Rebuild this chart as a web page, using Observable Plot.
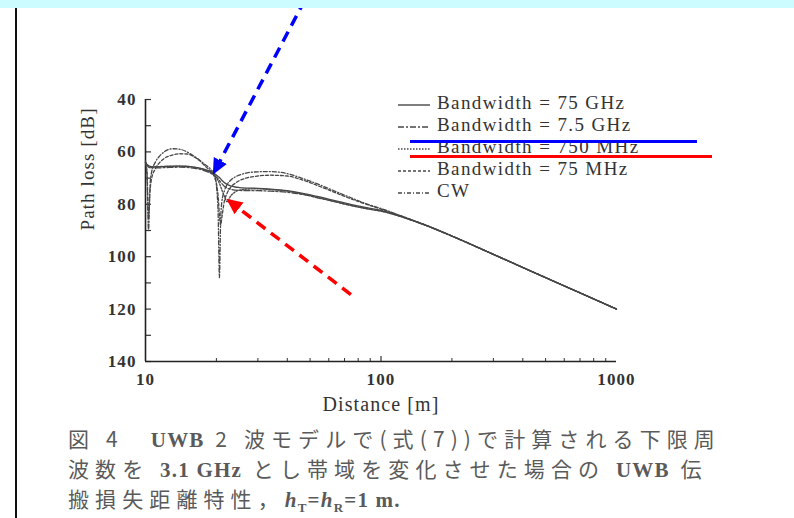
<!DOCTYPE html>
<html>
<head>
<meta charset="utf-8">
<script src="https://cdn.jsdelivr.net/npm/d3@7"></script>
<script src="https://cdn.jsdelivr.net/npm/@observablehq/plot@0.6"></script>
<style>
  body { margin: 0; background: #fff; }
  #page { position: relative; width: 794px; height: 518px; overflow: hidden; background: #fff; }
  #band { position: absolute; left: 0; top: 0; width: 794px; height: 8px; background: #ccfcff; z-index: 5; }
  #rule { position: absolute; left: 15px; top: 8px; width: 2px; height: 510px; background: #111; }
  #chart { position: absolute; left: 0; top: 0; }
  #legend { position: absolute; left: 398px; top: 92px; font-family: "Liberation Serif", serif; font-size: 19px; color: #333; letter-spacing: 1.4px; z-index: 2; }
  #legend .row { height: 22px; line-height: 22px; white-space: nowrap; }
  #legend svg { vertical-align: middle; margin-right: 7px; }
  .strike { position: absolute; height: 3px; z-index: 3; }
  #caption { position: absolute; left: 68px; top: 424px; font-family: "Noto Sans CJK JP", sans-serif; font-size: 21px; line-height: 28px; color: #5a5a5a; white-space: nowrap; }
  #caption div { letter-spacing: 6.1px; }
  #caption .lat { font-family: "Liberation Serif", serif; font-weight: bold; font-size: 21px; letter-spacing: 1.2px; }
  #caption sub { font-size: 13px; }
</style>
</head>
<body>
<div id="page">
  <div id="band"></div>
  <div id="rule"></div>
  <div id="chart"></div>
  <div id="legend"></div>
  <div class="strike" style="left:410px; top:140px; width:287px; background:#0000ff;"></div>
  <div class="strike" style="left:410px; top:155px; width:302px; background:#ff0000;"></div>
  <div id="caption">
    <div>図 4　<span class="lat">UWB</span> 2 波モデルで(式(7))で計算される下限周</div>
    <div>波数を <span class="lat">3.1 GHz</span> とし帯域を変化させた場合の <span class="lat">UWB</span> 伝</div>
    <div>搬損失距離特性，<span class="lat"><i>h</i><sub>T</sub>=<i>h</i><sub>R</sub>=1 m.</span></div>
  </div>
</div>
<script>
// Distances [m] at which every curve is sampled
const distance = [10, 10.15, 10.3, 10.45, 10.6, 11, 11.5, 12, 13, 14, 15, 16, 17, 18, 19, 19.6, 20.1, 20.35, 20.6, 20.85, 21.1, 21.6, 22.2, 23, 24, 25, 27, 30, 34, 40, 46, 55, 65, 75, 88, 100, 120, 150, 200, 300, 500, 700, 1000];

// Path loss [dB] for each bandwidth
const loss75GHz = [64.3, 64.8, 65.2, 65.5, 65.6, 65.7, 65.7, 65.6, 65.5, 65.4, 65.5, 65.8, 66.2, 66.8, 67.6, 68.3, 69, 69.4, 69.8, 70.3, 70.8, 71.7, 72.4, 73, 73.4, 73.6, 73.8, 73.9, 74.2, 74.8, 75.7, 77.2, 78.8, 80.1, 81.4, 82.3, 84.3, 87.5, 92.1, 99.1, 108, 113.8, 120];
const loss7_5GHz = [64, 65, 65.6, 65.9, 66, 66.1, 66.1, 66, 65.9, 65.8, 65.9, 66.2, 66.6, 67.3, 68.2, 69, 69.8, 70.3, 70.9, 71.5, 72.1, 73.1, 73.8, 74.3, 74.6, 74.7, 74.8, 74.8, 75, 75.4, 76.2, 77.7, 79.2, 80.5, 81.7, 82.6, 84.5, 87.5, 92.1, 99.1, 108, 113.8, 120];
const loss750MHz = [64, 64.8, 65.8, 66, 65.9, 65.7, 65.6, 65.5, 65.4, 65.4, 65.5, 65.8, 66.3, 67, 68.1, 69, 70.2, 71, 72, 73.2, 74.5, 76.8, 79, 76.8, 75.3, 74.6, 74.2, 74.1, 74.4, 75, 76, 77.6, 79.2, 80.5, 81.8, 82.6, 84.6, 87.6, 92.1, 99.1, 108, 113.8, 120];
const loss75MHz = [64, 67.5, 85, 75, 70.5, 66.5, 64, 62.5, 61.2, 60.7, 60.8, 61.8, 63.4, 65.6, 67.6, 69.5, 73, 77, 84, 88, 85, 79, 75.8, 73.5, 72, 71, 69.9, 69.2, 68.9, 69.2, 70.6, 73.2, 75.8, 78, 80.2, 81.8, 84.3, 87.5, 92.1, 99.1, 108, 113.8, 120];
const lossCW = [63.5, 70, 90, 73, 68, 64, 61.5, 60, 58.8, 59, 60, 61.5, 63.2, 65, 66.8, 68.5, 75, 84, 108, 86, 79, 75, 72.5, 70.8, 69.6, 68.9, 68, 67.6, 67.5, 68.3, 70, 72.6, 75.3, 77.6, 80, 81.6, 84.2, 87.5, 92.2, 99.1, 108, 113.8, 120];

const seriesNames = ["Bandwidth = 75 GHz", "Bandwidth = 7.5 GHz", "Bandwidth = 750 MHz", "Bandwidth = 75 MHz", "CW"];
const seriesLoss = [loss75GHz, loss7_5GHz, loss750MHz, loss75MHz, lossCW];

// Axis ticks and titles
const yTickLabels = [40, 60, 80, 100, 120, 140];
const yMinorTicks = [50, 70, 90, 110, 130];
const xTickLabels = [10, 100, 1000];
const xMinorTicks = [20, 30, 40, 50, 60, 70, 80, 90, 200, 300, 400, 500, 600, 700, 800, 900];
const xTitle = "Distance [m]";
const yTitle = "Path loss [dB]";

// Annotation arrows (distance [m], path loss [dB]) : tail -> tip
const arrowTailDistance = [47.5, 74.5];
const arrowTailLoss = [2, 114.5];
const arrowTipDistance = [19.6, 22.6];
const arrowTipLoss = [67.6, 78.6];
const arrowColors = ["#0000ff", "#ff0000"];

// Line style of each curve
const dashStyle = {
  "Bandwidth = 75 GHz": null,
  "Bandwidth = 7.5 GHz": "6,2,2,2",
  "Bandwidth = 750 MHz": "1.5,1.5",
  "Bandwidth = 75 MHz": "3,2",
  "CW": "4,2,1,2"
};
const curveColor = "#474747";
const serif = "'Liberation Serif', serif";

const rows = seriesNames.flatMap((name, s) =>
  distance.map((d, i) => ({series: name, distance: d, loss: seriesLoss[s][i]}))
);
const arrows = arrowColors.map((c, i) => ({
  color: c,
  x1: arrowTailDistance[i], y1: arrowTailLoss[i],
  x2: arrowTipDistance[i], y2: arrowTipLoss[i]
}));

// Filled triangular arrow head
function solidHead(color, context) {
  const m = d3.create("svg:marker")
    .attr("viewBox", "-6 -5 10 10")
    .attr("markerWidth", 16)
    .attr("markerHeight", 16)
    .attr("markerUnits", "userSpaceOnUse")
    .attr("refX", 2)
    .attr("refY", 0)
    .attr("orient", "auto");
  m.append("path").attr("d", "M-6,-4.6L4,0L-6,4.6Z").attr("fill", color).attr("stroke", "none");
  return m.node();
}

const W = 794, H = 420;
const mL = 145, mR = 178, mT = 99, mB = 59;
const plotW = W - mL - mR, plotH = H - mT - mB;

const chart = Plot.plot({
  width: W,
  height: H,
  marginLeft: mL,
  marginRight: mR,
  marginTop: mT,
  marginBottom: mB,
  style: {background: "transparent", fontFamily: serif, fontSize: "17px", color: "#333", overflow: "visible", letterSpacing: "1.1px"},
  x: {type: "log", domain: [10, 1000]},
  y: {domain: [40, 140], reverse: true},
  marks: [
    Plot.axisY(yTickLabels, {tickSize: 0, tickPadding: 9, fontWeight: "bold", fill: "#333", fontFamily: serif, label: null}),
    Plot.axisX(xTickLabels, {tickSize: 0, tickPadding: 11, fontWeight: "bold", fill: "#333", fontFamily: serif, tickFormat: d => String(d), label: null}),
    Plot.text([yTitle], {frameAnchor: "left", dx: -58, rotate: -90, fontSize: 19, fontFamily: serif, fill: "#333"}),
    Plot.text([xTitle], {frameAnchor: "bottom", dy: 49, fontSize: 20, fontFamily: serif, fill: "#333"}),
    Plot.tickY(yTickLabels.concat(yMinorTicks), {y: d => d, insetRight: plotW - 6, stroke: "#333", strokeWidth: 1.2}),
    Plot.tickX(xMinorTicks, {x: d => d, insetTop: plotH - 3, stroke: "#333", strokeWidth: 1}),
    Plot.tickX([100], {x: d => d, insetTop: plotH - 5, stroke: "#333", strokeWidth: 1.2}),
    Plot.ruleX([10], {stroke: "#222", strokeWidth: 1.6}),
    Plot.ruleY([140], {stroke: "#222", strokeWidth: 1.6}),
    ...seriesNames.map(name => Plot.line(rows.filter(r => r.series === name), {
      x: "distance", y: "loss",
      stroke: curveColor, strokeWidth: 1.3,
      strokeDasharray: dashStyle[name] ?? undefined,
      curve: "monotone-x"
    })),
    Plot.link(arrows, {
      x1: "x1", y1: "y1", x2: "x2", y2: "y2",
      stroke: "color", strokeWidth: 3.5, strokeDasharray: "11,7",
      markerEnd: solidHead
    })
  ]
});
document.getElementById("chart").append(chart);

// Legend: line sample + series name
const legend = d3.select("#legend");
seriesNames.forEach(name => {
  const row = legend.append("div").attr("class", "row");
  const sw = row.append("svg").attr("width", 32).attr("height", 10);
  sw.append("line").attr("x1", 0).attr("x2", 32).attr("y1", 5).attr("y2", 5)
    .attr("stroke", curveColor).attr("stroke-width", 1.4)
    .attr("stroke-dasharray", dashStyle[name]);
  row.append("span").text(name);
});
</script>
</body>
</html>
